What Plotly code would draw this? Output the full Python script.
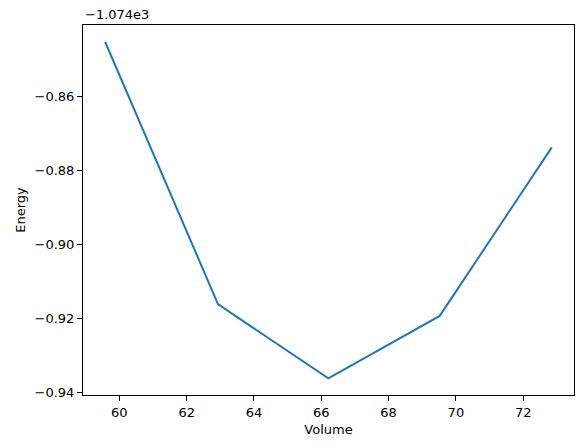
import plotly.graph_objects as go

# equation-of-state scan
volume = [59.58, 62.93, 66.21, 69.52, 72.85]
energy = [-1074.8453, -1074.9162, -1074.9363, -1074.9194, -1074.8738]
offset = -1074.0
y_ticks = [-0.94, -0.92, -0.90, -0.88, -0.86]

y_rel = [e - offset for e in energy]
fig = go.Figure()
fig.add_trace(go.Scatter(x=volume, y=y_rel, mode='lines', line=dict(color='#1f77b4', width=2)))

ax = dict(showline=True, mirror=True, linecolor='black', linewidth=1, showgrid=False, zeroline=False,
          ticks='outside', ticklen=5, tickcolor='black', automargin=False,
          tickfont=dict(family='DejaVu Sans', size=13, color='black'))
fig.update_layout(
    width=571, height=432, margin=dict(l=75, r=5, t=17, b=45),
    plot_bgcolor='white', paper_bgcolor='white', showlegend=False,
    font=dict(family='DejaVu Sans', size=13, color='black'),
    xaxis=dict(ax, range=[58.92, 73.51], tickvals=[60, 62, 64, 66, 68, 70, 72],
               title=dict(text='Volume', standoff=6, font=dict(size=13))),
    yaxis=dict(ax, range=[-0.9408, -0.8407], tickvals=y_ticks,
               ticktext=['\u2212%.2f' % abs(t) for t in y_ticks],
               title=dict(text='Energy', standoff=6, font=dict(size=13))),
)
fig.add_annotation(text='\u22121.074e3', xref='paper', yref='paper', x=0, y=1, yshift=1,
                   xanchor='left', yanchor='bottom', showarrow=False, font=dict(size=13))
fig.write_html("out.html")
